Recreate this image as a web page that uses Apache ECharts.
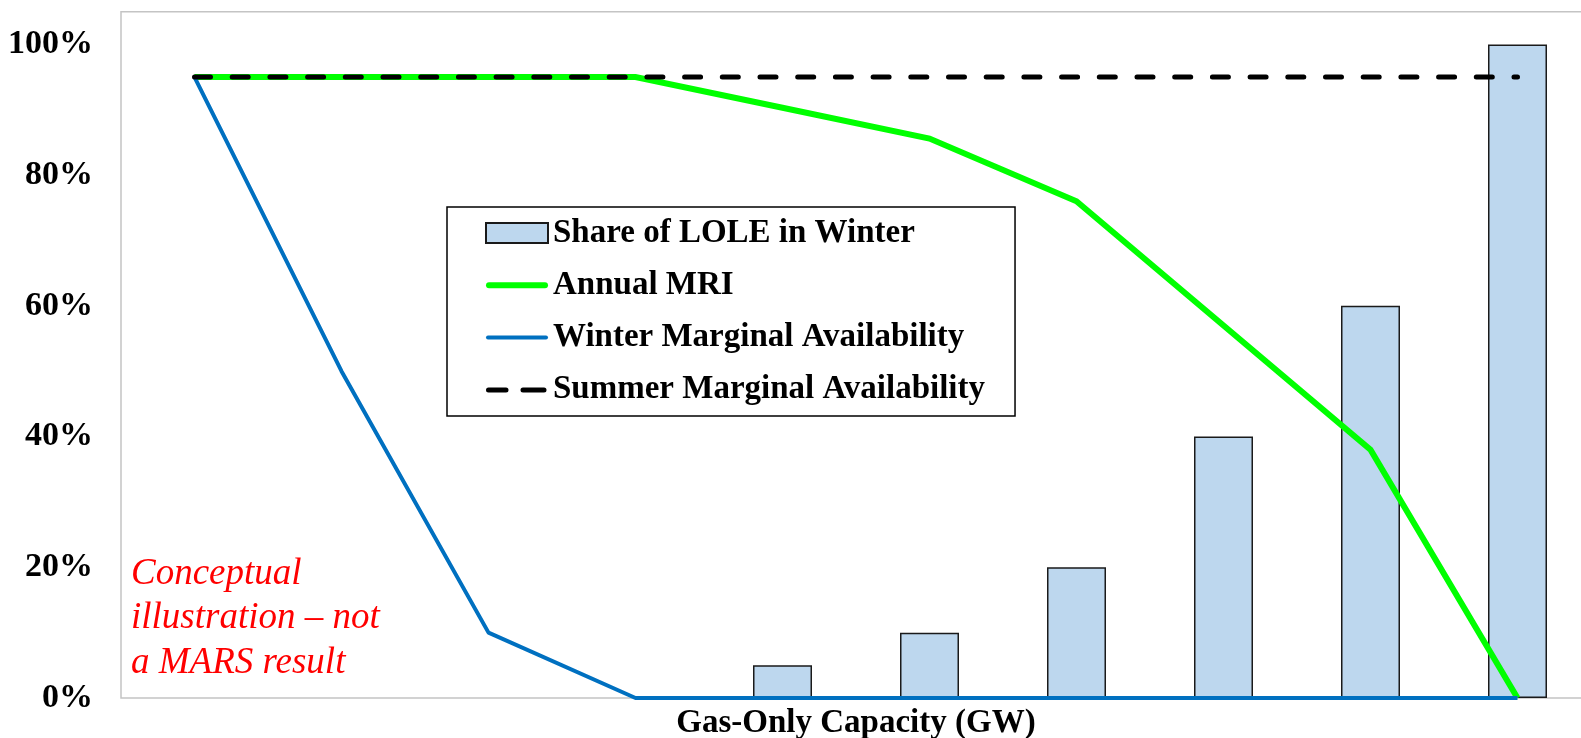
<!DOCTYPE html>
<html>
<head>
<meta charset="utf-8">
<title>Gas-Only Capacity – Winter LOLE and Marginal Availability</title>
<script src="https://cdn.jsdelivr.net/npm/echarts@6/dist/echarts.min.js"></script>
<style>
  html, body { margin: 0; padding: 0; background: #ffffff; }
  #chart { width: 1581px; height: 738px; }
</style>
</head>
<body>
<div id="chart"></div>
<script>
// Capacity steps along the horizontal axis (unlabelled in the figure)
const capacitySteps = ['1', '2', '3', '4', '5', '6', '7', '8', '9', '10'];

// Share of LOLE occurring in winter, % (no bar at the first four steps)
const winterLoleShare = [null, null, null, null, 5, 10, 20, 40, 60, 100];

// Annual MRI, %
const annualMri = [95, 95, 95, 95, 90.3, 85.6, 76, 57, 38, 0];

// Winter marginal availability, %
const winterAvailability = [95, 50, 10, 0, 0, 0, 0, 0, 0, 0];

// Summer marginal availability, %
const summerAvailability = [95, 95, 95, 95, 95, 95, 95, 95, 95, 95];

const yTicks = { min: 0, max: 105, step: 20 };

const SERIF = '"Liberation Serif", "Times New Roman", serif';

// Legend glyphs: a leading moveTo pair fixes the 62x20 icon box
const iconSolidThick = 'path://M0,0M62,20M3,7H59A3,3 0 0 1 59,13H3A3,3 0 0 1 3,7Z';
const iconSolidThin = 'path://M0,0M62,20M2,8H60A2,2 0 0 1 60,12H2A2,2 0 0 1 2,8Z';
const iconDashed = 'path://M0,0M62,20M2.5,7.5H20A2.5,2.5 0 0 1 20,12.5H2.5A2.5,2.5 0 0 1 2.5,7.5Z M37,7.5H58A2.5,2.5 0 0 1 58,12.5H37A2.5,2.5 0 0 1 37,7.5Z';

const chart = echarts.init(document.getElementById('chart'), null, { renderer: 'canvas' });

chart.setOption({
  animation: false,
  backgroundColor: '#ffffff',
  textStyle: { fontFamily: SERIF },
  grid: {
    show: true,
    // the plot frame runs past the right edge of the canvas
    outerBoundsMode: 'none',
    containLabel: false,
    left: 121,
    top: 11.7,
    width: 1470,
    bottom: 40,
    borderColor: '#c4c4c4',
    borderWidth: 1.5,
    backgroundColor: 'transparent'
  },
  legend: {
    orient: 'vertical',
    left: 447,
    top: 207,
    padding: [5.5, 30, 5.5, 38],
    itemWidth: 62,
    itemHeight: 20,
    itemGap: 11.3,
    borderColor: '#000000',
    borderWidth: 1.5,
    backgroundColor: '#ffffff',
    selectedMode: false,
    textStyle: {
      fontFamily: SERIF,
      fontWeight: 'bold',
      fontSize: 33,
      lineHeight: 33,
      color: '#000000',
      padding: [8, 0, 0, 0]
    },
    data: [
      { name: 'Share of LOLE in Winter', icon: 'rect' },
      { name: 'Annual MRI', icon: iconSolidThick, itemStyle: { borderWidth: 0 } },
      { name: 'Winter Marginal Availability', icon: iconSolidThin, itemStyle: { borderWidth: 0 } },
      { name: 'Summer Marginal Availability', icon: iconDashed, itemStyle: { borderWidth: 0 } }
    ]
  },
  xAxis: {
    type: 'category',
    data: capacitySteps,
    boundaryGap: true,
    name: 'Gas-Only Capacity (GW)',
    nameLocation: 'middle',
    nameGap: 9,
    nameTextStyle: {
      fontFamily: SERIF,
      fontWeight: 'bold',
      fontSize: 33,
      color: '#000000'
    },
    axisLine: { show: false },
    axisTick: { show: false },
    axisLabel: { show: false },
    splitLine: { show: false }
  },
  yAxis: {
    type: 'value',
    min: yTicks.min,
    max: yTicks.max,
    interval: yTicks.step,
    axisLine: { show: false },
    axisTick: { show: false },
    splitLine: { show: false },
    axisLabel: {
      showMaxLabel: false,
      margin: 28,
      padding: [6, 0, 0, 0],
      fontFamily: SERIF,
      fontWeight: 'bold',
      fontSize: 34,
      color: '#000000',
      formatter: function (v) {
        return v % yTicks.step === 0 ? v + '%' : '';
      }
    }
  },
  graphic: [
    {
      type: 'text',
      left: 131,
      top: 552,
      z: 10,
      style: {
        text: 'Conceptual\nillustration \u2013 not\na MARS result',
        font: 'italic 37px "Liberation Serif", "Times New Roman", serif',
        fill: '#ff0000',
        lineHeight: 44.5
      }
    }
  ],
  series: [
    {
      name: 'Share of LOLE in Winter',
      type: 'bar',
      data: winterLoleShare,
      barWidth: 59,
      itemStyle: {
        color: '#bdd7ee',
        borderColor: '#1a1a1a',
        borderWidth: 1.5
      },
      emphasis: { disabled: true }
    },
    {
      name: 'Annual MRI',
      type: 'line',
      data: annualMri,
      symbol: 'none',
      color: '#00ff00',
      lineStyle: { color: '#00ff00', width: 6, join: 'miter' },
      emphasis: { disabled: true }
    },
    {
      name: 'Winter Marginal Availability',
      type: 'line',
      data: winterAvailability,
      symbol: 'none',
      color: '#0070c0',
      lineStyle: { color: '#0070c0', width: 4 },
      emphasis: { disabled: true }
    },
    {
      name: 'Summer Marginal Availability',
      type: 'line',
      data: summerAvailability,
      symbol: 'none',
      color: '#000000',
      lineStyle: { color: '#000000', width: 5, type: [16, 21.7], cap: 'round' },
      emphasis: { disabled: true }
    }
  ]
});
</script>
</body>
</html>
